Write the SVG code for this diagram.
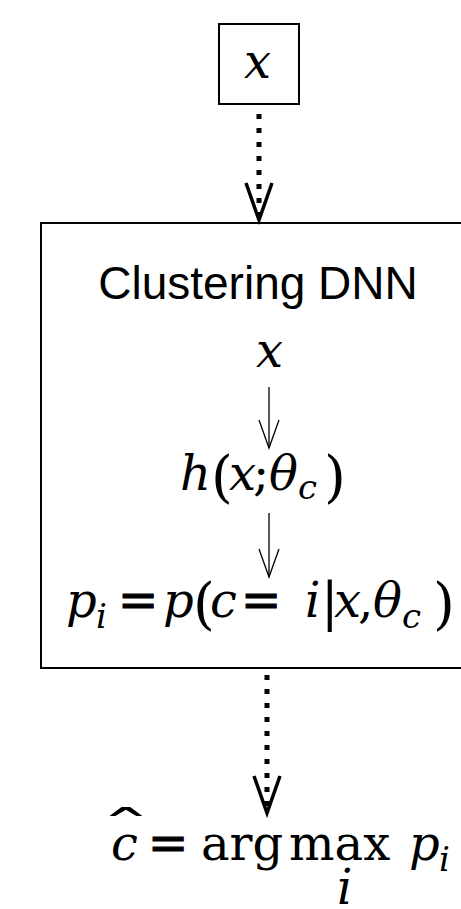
<svg xmlns="http://www.w3.org/2000/svg" width="461" height="909" viewBox="0 0 461 909">
<style>
.box{fill:#fff;stroke:#000;stroke-width:2}
.sans{font-family:"Liberation Sans",Arial,sans-serif;fill:#000}
.m{font-family:"DejaVu Serif","Liberation Serif",serif;font-size:48px;fill:#000}
.it{font-style:italic}
.sub{font-size:34px}
.par{font-size:56px}
.eq{stroke:#000;stroke-width:1.2}
.dot{stroke:#000;stroke-width:5;stroke-dasharray:5 9;fill:none}
.thin{stroke:#000;stroke-width:1.3;fill:none}
</style>
<defs>
<marker id="vthick" markerUnits="userSpaceOnUse" orient="auto" refX="0" refY="0" markerWidth="1" markerHeight="1" overflow="visible">
<path d="M-37,-13 L0,0 L-37,13" fill="none" stroke="#000" stroke-width="3.5" stroke-linejoin="miter"/>
</marker>
<marker id="vthin" markerUnits="userSpaceOnUse" orient="auto" refX="0" refY="0" markerWidth="1" markerHeight="1" overflow="visible">
<path d="M-28,-10 L0,0 L-28,10" fill="none" stroke="#000" stroke-width="1.3"/>
</marker>
</defs>
<rect width="461" height="909" fill="#fff"/>
<g id="input">
<rect class="box" x="219" y="24" width="80" height="80"/>
<text class="m it" x="244" y="78" font-size="52">x</text>
</g>
<g id="dnn">
<rect class="box" x="41" y="223" width="430" height="445"/>
<text class="sans" x="258" y="299" font-size="46" text-anchor="middle">Clustering DNN</text>
<text class="m it" x="256" y="367" font-size="50">x</text>
<text class="m"><tspan class="it" x="180" y="490">h</tspan><tspan class="par" x="211" y="496">(</tspan><tspan class="it" x="229" y="490">x</tspan><tspan x="253" y="490">;</tspan><tspan class="it" x="269" y="490">θ</tspan><tspan class="it sub" x="298" y="499">c</tspan><tspan class="par" x="324" y="496">)</tspan></text>
<text class="m"><tspan class="it" x="66" y="617">p</tspan><tspan class="it sub" x="96" y="628">i</tspan><tspan class="eq" x="118" y="617">=</tspan><tspan class="it" x="163" y="617">p</tspan><tspan class="par" x="193" y="623">(</tspan><tspan class="it" x="210" y="617">c</tspan><tspan class="eq" x="241" y="617">=</tspan><tspan class="it" x="305" y="617">i</tspan><tspan x="321" y="620" font-size="52">|</tspan><tspan class="it" x="334" y="617">x</tspan><tspan x="358" y="617">,</tspan><tspan class="it" x="373" y="617">θ</tspan><tspan class="it sub" x="402" y="628">c</tspan><tspan class="par" x="433" y="623">)</tspan></text>
</g>
<g id="output">
<text class="m"><tspan class="it" x="111" y="860">c</tspan><tspan class="eq" x="148" y="860">=</tspan><tspan x="201" y="860">arg</tspan><tspan x="289" y="860">max</tspan><tspan class="it" x="409" y="860">p</tspan><tspan class="it sub" x="439" y="871">i</tspan></text>
<text class="m" transform="translate(126 846) scale(2.2 1)" x="0" y="0" font-size="60" text-anchor="middle">ˆ</text>
<text class="m it" x="337" y="904" font-size="34">i</text>
</g>
<g id="connectors">
<line class="dot" x1="259" y1="114" x2="259" y2="220" marker-end="url(#vthick)"/>
<line class="thin" x1="269" y1="387" x2="269" y2="448" marker-end="url(#vthin)"/>
<line class="thin" x1="269" y1="513" x2="269" y2="577" marker-end="url(#vthin)"/>
<line class="dot" x1="267" y1="675" x2="267" y2="813" marker-end="url(#vthick)"/>
</g>
</svg>
